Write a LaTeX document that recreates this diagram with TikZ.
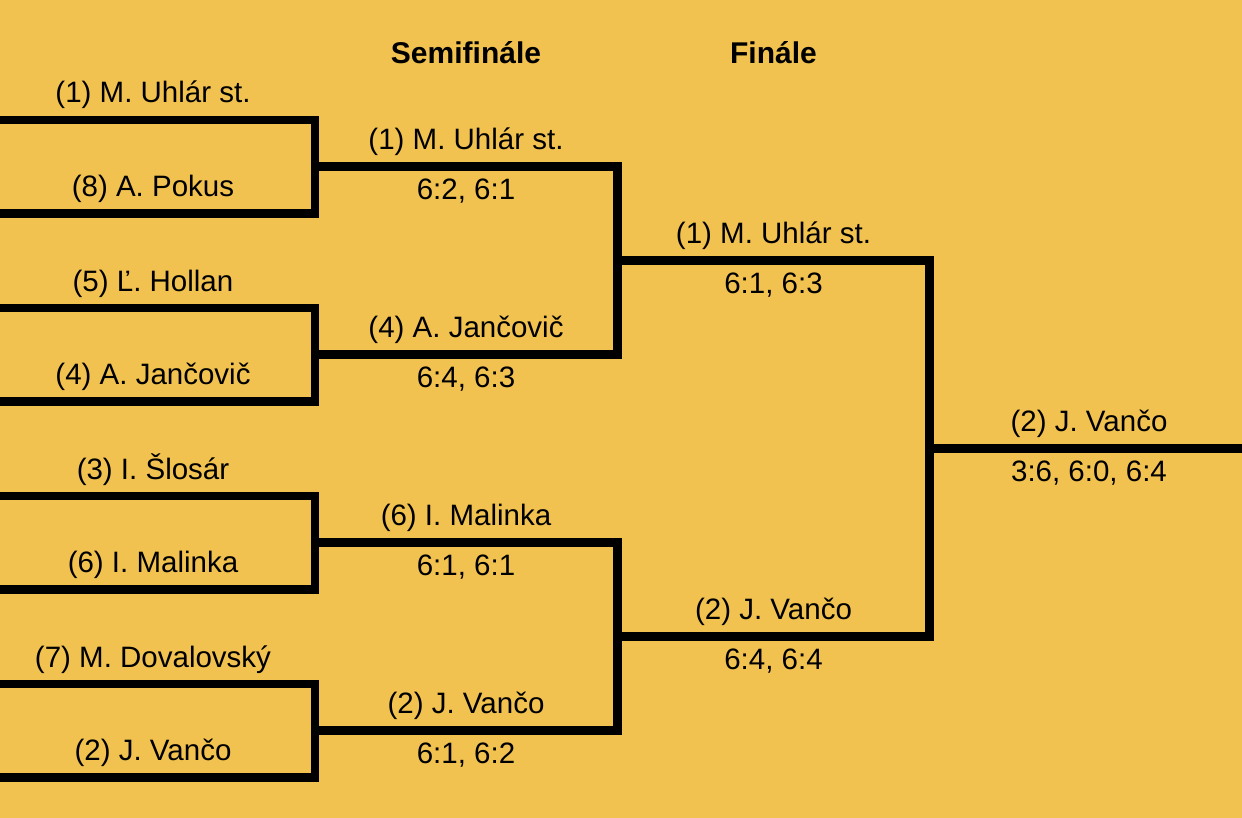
\documentclass[tikz,border=0pt]{standalone}
\usepackage{fontspec}
\setmainfont{Liberation Sans}
\definecolor{bg}{HTML}{F1C24F}
\begin{document}
\begin{tikzpicture}[x=1pt,y=-1pt,
  lbl/.style={anchor=base, inner sep=0pt, font=\fontsize{29.5}{34}\selectfont},
  hdr/.style={anchor=base, inner sep=0pt, font=\fontsize{30}{36}\selectfont\bfseries},
  br/.style={draw=black, line width=8.5pt, line join=miter}]
\fill[bg] (0,0) rectangle (1242,818);
\useasboundingbox (0,0) rectangle (1242,818);

% headers
\node[hdr] (hsemi) at (466,64) {Semifinále};
\node[hdr] (hfin) at (773.5,64) {Finále};

% first round coordinates
\foreach \i/\t in {1/120,2/308,3/496,4/684} {
  \coordinate (a\i) at (0,\t);
  \coordinate (b\i) at (315,\t);
  \coordinate (c\i) at (315,\t+93.5);
  \coordinate (d\i) at (0,\t+93.5);
  \coordinate (m\i) at (315,\t+46.7);
}
\foreach \i in {1,2,3,4} {
  \draw[br] (a\i) -- (b\i) -- (c\i) -- (d\i);
}

% semifinal coordinates
\coordinate (s1) at (617.5,166.7);
\coordinate (s2) at (617.5,354.7);
\coordinate (s3) at (617.5,542.7);
\coordinate (s4) at (617.5,730.7);
\draw[br] (m1) -- (s1) -- (s2) -- (m2);
\draw[br] (m3) -- (s3) -- (s4) -- (m4);

% final coordinates
\coordinate (f1l) at (617.5,260.7);
\coordinate (f1r) at (929.5,260.7);
\coordinate (f2l) at (617.5,636.7);
\coordinate (f2r) at (929.5,636.7);
\draw[br] (f1l) -- (f1r) -- (f2r) -- (f2l);

% champion
\coordinate (w) at (929.5,448.7);
\coordinate (e) at (1242,448.7);
\draw[br] (w) -- (e);

% first round labels
\node[lbl] (p1) at (153,103) {(1) M. Uhlár st.};
\node[lbl] (p8) at (153,196.5) {(8) A. Pokus};
\node[lbl] (p5) at (153,291) {(5) Ľ. Hollan};
\node[lbl] (p4) at (153,384.5) {(4) A. Jančovič};
\node[lbl] (p3) at (153,479) {(3) I. Šlosár};
\node[lbl] (p6) at (153,572.5) {(6) I. Malinka};
\node[lbl] (p7) at (153,667) {(7) M. Dovalovský};
\node[lbl] (p2) at (153,760.5) {(2) J. Vančo};

% semifinal labels
\node[lbl] (sn1) at (466,149.7) {(1) M. Uhlár st.};
\node[lbl] (ss1) at (466,199.7) {6:2, 6:1};
\node[lbl] (sn2) at (466,337.7) {(4) A. Jančovič};
\node[lbl] (ss2) at (466,387.7) {6:4, 6:3};
\node[lbl] (sn3) at (466,525.7) {(6) I. Malinka};
\node[lbl] (ss3) at (466,575.7) {6:1, 6:1};
\node[lbl] (sn4) at (466,713.7) {(2) J. Vančo};
\node[lbl] (ss4) at (466,763.7) {6:1, 6:2};

% final labels
\node[lbl] (fn1) at (773.5,243.7) {(1) M. Uhlár st.};
\node[lbl] (fs1) at (773.5,293.7) {6:1, 6:3};
\node[lbl] (fn2) at (773.5,619.7) {(2) J. Vančo};
\node[lbl] (fs2) at (773.5,669.7) {6:4, 6:4};

% champion labels
\node[lbl] (cn) at (1089,431.7) {(2) J. Vančo};
\node[lbl] (cs) at (1089,481.7) {3:6, 6:0, 6:4};
\end{tikzpicture}
\end{document}
